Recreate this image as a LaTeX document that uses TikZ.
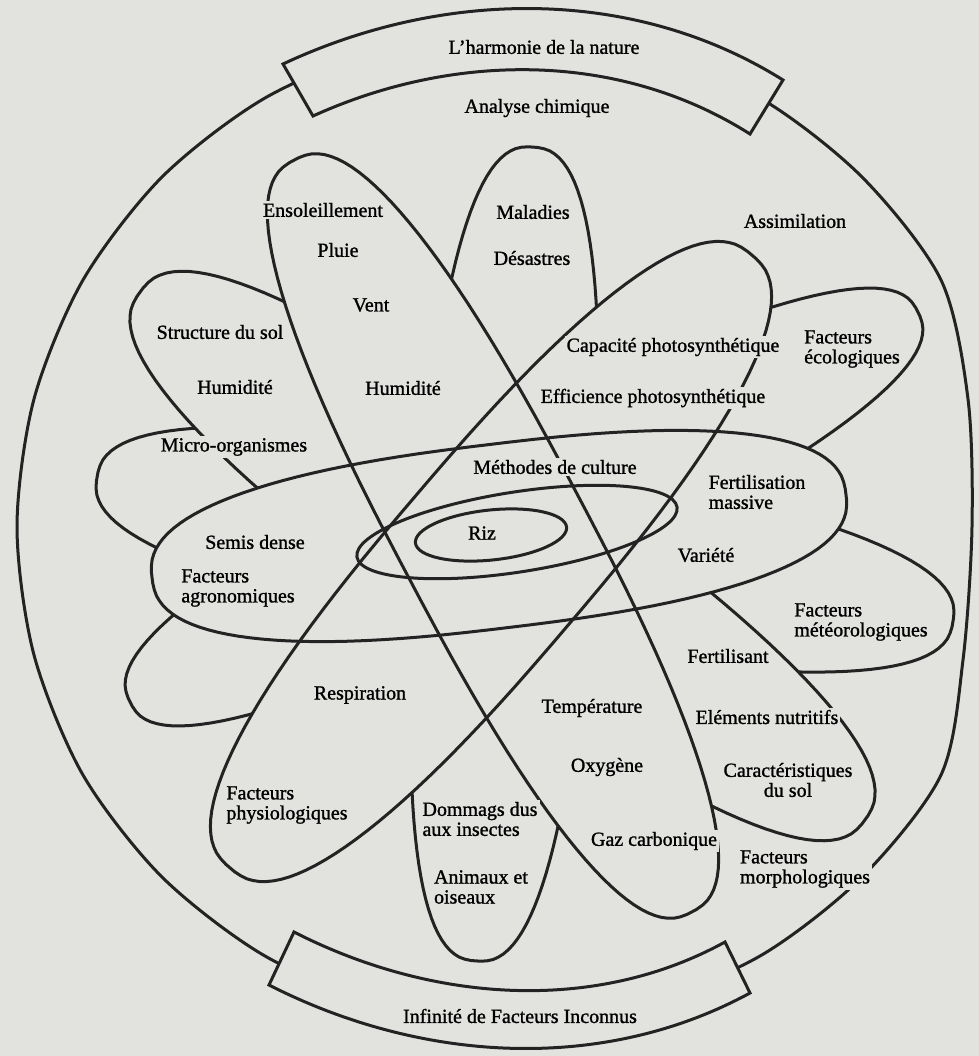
\documentclass[tikz,border=0pt]{standalone}
\usepackage{fontspec}
\setmainfont{Liberation Serif}
\newfontfamily\etiqfont{Liberation Serif}[FakeBold=1.2, Ligatures=TeX]
\definecolor{fond}{RGB}{226,226,223}
\definecolor{encre}{RGB}{35,35,35}

% petale : pointe 1 (#2,#3), pointe 2 (#4,#5), demi-largeur #6
\newcommand{\petale}[6][draw]{%
  \pgfmathsetmacro{\pcx}{(#2+#4)/2}%
  \pgfmathsetmacro{\pcy}{(#3+#5)/2}%
  \pgfmathsetmacro{\pa}{50*veclen((#4-#2)/100,(#5-#3)/100)}%
  \pgfmathsetmacro{\pang}{-atan2(#5-#3,#4-#2)}%
  \begin{scope}[shift={(\pcx,\pcy)},rotate=\pang]
    \path[#1] plot[domain=1.5:358.5,samples=120,variable=\t]
      ({\pa*sign(cos(\t))*abs(cos(\t))^0.8},{#6*sign(sin(\t))*abs(sin(\t))^0.8}) -- cycle;
  \end{scope}}

\begin{document}
\begin{tikzpicture}[x=0.5pt, y=-0.5pt,
    trait/.style={draw=encre, line width=1.5pt},
    etiq/.style={fill=fond, inner sep=1pt, font=\etiqfont\fontsize{10}{10}\selectfont, align=center}]
    % fond
    \fill[fond] (0,0) rectangle (979,1056);
    \useasboundingbox (0,0) rectangle (979,1056);

    % grand cercle (aplati a droite)
    \draw[trait] plot[smooth cycle] coordinates {(17,527) (34,399) (83,280) (162,177) (265,98)
      (384,49) (512,32) (640,49) (760,98) (862,177) (941,280) (968,399) (972,527) (963,660)
      (941,775) (862,877) (760,956) (640,1005) (512,1022) (384,1005) (265,956) (162,877)
      (83,775) (34,655)};

    % cartouches haut et bas
    \filldraw[trait, fill=fond] (283,64) -- (313,116) .. controls (454,52) and (619,51) .. (750,134)
      -- (783,80) .. controls (633,-14) and (443,-11) .. (283,64) -- cycle;
    \filldraw[trait, fill=fond] (269,985) -- (294,932) .. controls (429,1001) and (592,1015) .. (725,942)
      -- (750,993) .. controls (601,1074) and (420,1062) .. (269,985) -- cycle;

    % petales du fond
    \petale[trait]{97}{477}{953}{622}{90}
    \petale[trait, fill=fond]{140}{292}{865}{820}{98}
    \petale[trait, fill=fond]{533}{147}{476}{961}{86}
    \petale[trait, fill=fond]{130}{702}{918}{312}{86}

    % petales du devant
    \foreach \xa/\ya/\xb/\yb/\lb in {294/160/692/912/94, 230/868/752/255/100, 152/578/846/494/92}{
      \petale[fill=fond]{\xa}{\ya}{\xb}{\yb}{\lb}
    }
    \foreach \xa/\ya/\xb/\yb/\lb in {294/160/692/912/94, 230/868/752/255/100, 152/578/846/494/92}{
      \petale[trait]{\xa}{\ya}{\xb}{\yb}{\lb}
    }

    % ellipses du centre
    \draw[trait, rotate around={8.85:(517,532)}] (517,532) ellipse [x radius=162, y radius=40];
    \draw[trait, rotate around={6:(491,535)}] (491,535) ellipse [x radius=76, y radius=25];

    % textes
    \node[etiq] (harmonie) at (544,47) {L'harmonie de la nature};
    \node[etiq] (analyse) at (537,108) {Analyse chimique};
    \node[etiq] (infinite) at (520,1016) {Infinité de Facteurs Inconnus};
    \node[etiq] (ensoleil) at (323,210) {Ensoleillement};
    \node[etiq] (pluie) at (338,250) {Pluie};
    \node[etiq] (vent) at (371,305) {Vent};
    \node[etiq] (maladies) at (533,212) {Maladies};
    \node[etiq] (desastres) at (532,258) {Désastres};
    \node[etiq] (assim) at (795,221) {Assimilation};
    \node[etiq] (structure) at (220,332) {Structure du sol};
    \node[etiq] (humid1) at (235,387) {Humidité};
    \node[etiq] (humid2) at (403,388) {Humidité};
    \node[etiq] (micro) at (234,447) {Micro-organismes};
    \node[etiq] (capacite) at (673,347) {Capacité photosynthétique};
    \node[etiq] (efficience) at (653,398) {Efficience photosynthétique};
    \node[etiq, align=left] (ecolo) at (852,349) {Facteurs\\écologiques};
    \node[etiq] (methodes) at (555,467) {Méthodes de culture};
    \node[etiq, align=left] (fertmass) at (757,492) {Fertilisation\\massive};
    \node[etiq] (riz) at (482,533) {Riz};
    \node[etiq] (semis) at (255,542) {Semis dense};
    \node[etiq] (variete) at (706,555) {Variété};
    \node[etiq, align=left] (agro) at (238,588) {Facteurs\\agronomiques};
    \node[etiq, align=left] (meteo) at (861,622) {Facteurs\\météorologiques};
    \node[etiq] (fertilisant) at (728,656) {Fertilisant};
    \node[etiq] (respiration) at (360,695) {Respiration};
    \node[etiq] (temperature) at (592,708) {Température};
    \node[etiq] (elements) at (767,717) {Eléments nutritifs};
    \node[etiq] (caract) at (788,780) {Caractéristiques\\du sol};
    \node[etiq] (oxygene) at (607,767) {Oxygène};
    \node[etiq, align=left] (physio) at (287,805) {Facteurs\\physiologiques};
    \node[etiq, align=left] (dommages) at (480,819) {Dommags dus\\aux insectes};
    \node[etiq] (gaz) at (654,841) {Gaz carbonique};
    \node[etiq, align=left] (morpho) at (805,869) {Facteurs\\morphologiques};
    \node[etiq, align=left] (animaux) at (481,887) {Animaux et\\oiseaux};
\end{tikzpicture}
\end{document}
